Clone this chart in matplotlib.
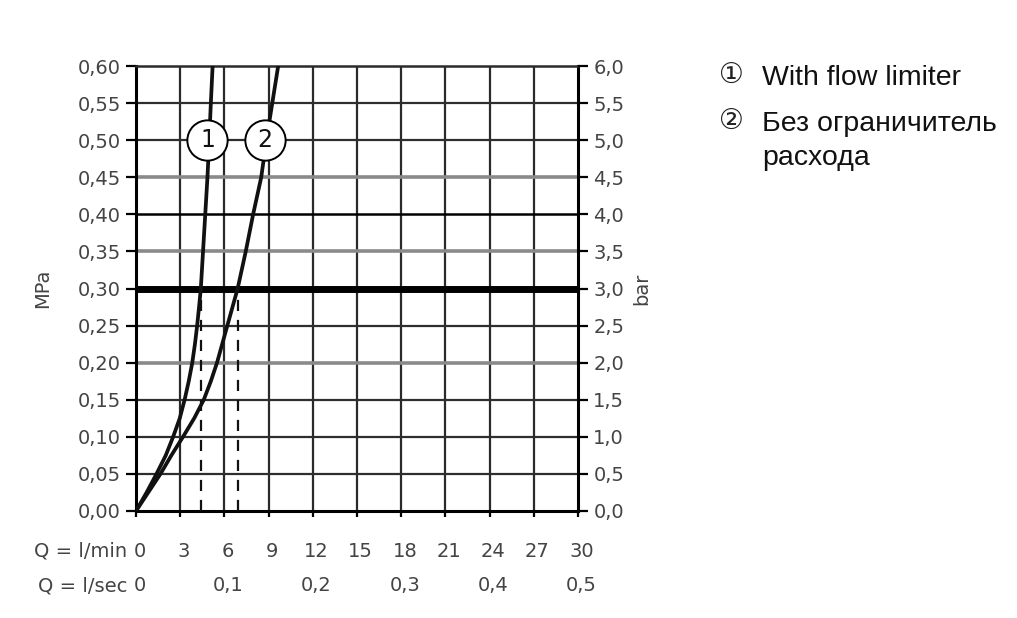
import matplotlib
matplotlib.use("Agg")
import matplotlib.pyplot as plt

# pressure levels (MPa)
pressure = [0.0, 0.025, 0.05, 0.075, 0.10, 0.125, 0.15, 0.175, 0.20, 0.225,
            0.25, 0.275, 0.30, 0.35, 0.40, 0.45, 0.50, 0.55, 0.60]
# curve 1: with flow limiter (l/min)
flow_1 = [0.0, 0.72, 1.39, 2.02, 2.52, 2.97, 3.30, 3.58, 3.82, 4.0,
          4.15, 4.28, 4.4, 4.55, 4.7, 4.85, 4.97, 5.08, 5.2]
# curve 2: without flow limiter (l/min)
flow_2 = [0.0, 0.83, 1.66, 2.4, 3.19, 3.95, 4.6, 5.08, 5.5, 5.85,
          6.2, 6.55, 6.9, 7.45, 7.95, 8.5, 8.85, 9.25, 9.65]

drop_flow = [4.4, 6.9]          # dashed drop lines at 0.3 MPa
drop_pressure = 0.30
label_pressure = 0.50
label_flow = [4.85, 8.75]
curve_names = ["1", "2"]

lmin_ticks = list(range(0, 31, 3))
lsec_ticks = [0, 6, 12, 18, 24, 30]
lsec_labels = ["0", "0,1", "0,2", "0,3", "0,4", "0,5"]
mpa_ticks = [i * 0.05 for i in range(13)]
bar_ticks = [i * 0.5 for i in range(13)]

legend_lines = ["With flow limiter", "Без ограничитель", "расхода"]
legend_marks = ["①", "②", ""]
legend_y = [75, 121, 155]

tick_col = "#444444"
fs = 14

fig = plt.figure(figsize=(10.17, 6.18), dpi=100)
ax = fig.add_axes([136 / 1017, 1 - 511 / 618, 442 / 1017, 445 / 618])
ax.set_xlim(0, 30)
ax.set_ylim(0, 0.60)

# grid
for x in lmin_ticks[1:-1]:
    ax.axvline(x, color="#2a2a2a", lw=1.6, zorder=1)
for y in mpa_ticks[1:-1]:
    r = round(y, 2)
    if r == 0.30:
        ax.axhline(y, color="black", lw=5, zorder=2)
    elif r == 0.40:
        ax.axhline(y, color="black", lw=1.8, zorder=1)
    elif r in (0.20, 0.35, 0.45):
        ax.axhline(y, color="#8a8a8a", lw=2.6, zorder=1)
    else:
        ax.axhline(y, color="#2e2e2e", lw=1.6, zorder=1)

for s in ax.spines.values():
    s.set_linewidth(2.2)
    s.set_color("black")
ax.spines["top"].set_linewidth(1.8)
ax.spines["top"].set_color("#2a2a2a")

# curves
ax.plot(flow_1, pressure, color="#111111", lw=2.7, zorder=3)
ax.plot(flow_2, pressure, color="#111111", lw=2.7, zorder=3)
for q in drop_flow:
    ax.plot([q, q], [0, drop_pressure], color="#111111", lw=1.6,
            dashes=(5, 4), zorder=3)

for q, name in zip(label_flow, curve_names):
    ax.plot([q], [label_pressure], "o", ms=29, mfc="white", mec="black",
            mew=1.4, zorder=5)
    ax.text(q, label_pressure, name, ha="center", va="center", fontsize=17,
            color="#111111", zorder=6)

# left axis
ax.set_yticks(mpa_ticks)
ax.set_yticklabels([f"{v:.2f}".replace(".", ",") for v in mpa_ticks])
ax.tick_params(axis="y", direction="out", length=7, width=1.6, pad=4,
               labelsize=fs, labelcolor=tick_col)
ax.set_xticks(lmin_ticks)
ax.set_xticklabels([])
ax.tick_params(axis="x", direction="out", length=4, width=1.6)
ax.set_ylabel("MPa", fontsize=fs, color=tick_col, labelpad=18)

# bottom rows of labels
xtr = ax.get_xaxis_transform()
for q in lmin_ticks:
    ax.text(q + 0.25, -0.09, str(q), transform=xtr, ha="center", va="center",
            fontsize=fs, color=tick_col)
for q, lab in zip(lsec_ticks, lsec_labels):
    ax.text(q + 0.25, -0.168, lab, transform=xtr, ha="center", va="center",
            fontsize=fs, color=tick_col)
ax.text(-0.6, -0.09, "Q = l/min", transform=xtr, ha="right", va="center",
        fontsize=fs, color=tick_col)
ax.text(-0.6, -0.168, "Q = l/sec", transform=xtr, ha="right", va="center",
        fontsize=fs, color=tick_col)

# right axis in bar
ax2 = ax.twinx()
ax2.set_ylim(0, 6.0)
ax2.set_yticks(bar_ticks)
ax2.set_yticklabels([f"{v:.1f}".replace(".", ",") for v in bar_ticks])
ax2.tick_params(axis="y", direction="out", length=7, width=1.6, pad=4,
                labelsize=fs, labelcolor=tick_col)
ax2.set_ylabel("bar", fontsize=fs, color=tick_col, labelpad=6)
for s in ax2.spines.values():
    s.set_visible(False)

# legend text on the right
for mark, txt, y in zip(legend_marks, legend_lines, legend_y):
    if mark:
        fig.text(731 / 1017, 1 - y / 618, mark, ha="center", va="center",
                 fontsize=20, family=["DejaVu Sans"], color="#222222")
    fig.text(762 / 1017, 1 - y / 618, txt, ha="left", va="center_baseline",
             fontsize=20.5, family=["Liberation Sans", "DejaVu Sans"],
             color="#111111")

fig.savefig("out.png", dpi=100)
